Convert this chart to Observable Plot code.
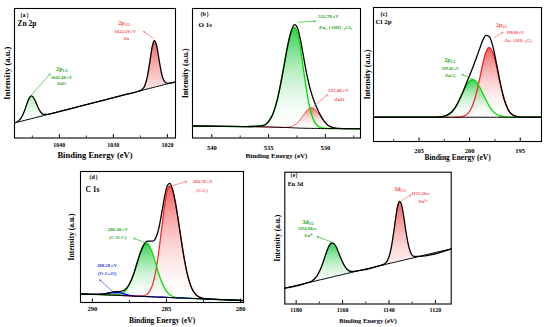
<!DOCTYPE html>
<html><head><meta charset="utf-8">
<script src="https://cdn.jsdelivr.net/npm/d3@7"></script>
<script src="https://cdn.jsdelivr.net/npm/@observablehq/plot@0.6"></script>
<style>
html,body{margin:0;padding:0;background:#fff;}
#root{position:relative;width:550px;height:327px;overflow:hidden;background:#fff;}
#root svg.panel{position:absolute;left:0;top:0;}
</style></head><body>
<svg width="0" height="0" style="position:absolute"><defs>
<linearGradient id="gRed" x1="0" y1="0" x2="0" y2="1"><stop offset="0" stop-color="#ee4040" stop-opacity="0.85"/><stop offset="1" stop-color="#ffffff" stop-opacity="0.1"/></linearGradient>
<linearGradient id="gGreen" x1="0" y1="0" x2="0" y2="1"><stop offset="0" stop-color="#18c83a" stop-opacity="0.9"/><stop offset="1" stop-color="#ffffff" stop-opacity="0.1"/></linearGradient>
<linearGradient id="gBlue" x1="0" y1="0" x2="0" y2="1"><stop offset="0" stop-color="#1030ff" stop-opacity="0.9"/><stop offset="1" stop-color="#ffffff" stop-opacity="0.2"/></linearGradient>
</defs></svg>
<div id="root"></div>
<script>
// ---------- Panel (a) Zn 2p ----------
const aE    = [1048.3,1047.5,1047,1046.5,1046,1045.6,1045.2,1044.8,1044.4,1043.9,1043.4,1042.9,1042.3,1041.5,1035,1028,1025.5,1024.8,1024.2,1023.7,1023.3,1022.8,1022.4,1022,1021.5,1021.1,1020.6,1020,1019.3,1018.5];
const aBase = [11.6,12.5,13.0,13.5,14.1,14.5,14.9,15.3,15.8,16.3,16.8,17.4,18.0,18.9,25.8,33.3,35.9,36.7,37.3,37.9,38.3,38.8,39.2,39.7,40.2,40.6,41.2,41.8,42.5,43.4];
const aZnO  = [0.1,0.9,2.9,6.9,12.3,16.1,17.6,16.1,12.3,6.9,2.9,0.9,0.2,0,0,0,0,0,0,0,0,0,0,0,0,0,0,0,0,0];
const aZn   = [0,0,0,0,0,0,0,0,0,0,0,0,0,0,0,0,0,0.4,2.9,9.6,19.1,31.7,35.9,31.7,19.1,9.6,2.9,0.4,0,0];
const aTicks = [1040,1030,1020], aMinor = [1045,1035,1025];

// ---------- Panel (b) O 1s ----------
const bE    = [541.7,539,537,535.5,535,534.6,534.2,533.8,533.5,533.2,532.95,532.7,532.45,532.2,531.95,531.7,531.45,531.2,530.95,530.7,530.4,530.1,529.8,529.4,529,528,526.9];
const bBase = [9.3,9.0,8.8,8.6,8.5,8.4,8.3,8.2,8.1,8.0,7.9,7.8,7.7,7.6,7.6,7.5,7.5,7.4,7.4,7.4,7.3,7.3,7.3,7.3,7.3,7.2,7.2];
const bOHCl = [0,0,0,1.0,4.1,10.5,22.3,39.7,54.4,67.5,74.9,77.5,73.3,62.1,47.0,31.9,19.3,10.5,5.1,2.2,0.7,0.2,0,0,0,0,0];
const bZnO  = [0,0,0,0,0,0,0,0,0.1,0.5,1.1,2.2,4.0,6.6,9.7,12.8,15.1,16,15.1,12.8,9.1,5.5,2.8,0.9,0.2,0,0];
const bTicks = [540,535,530], bMinor = [537.5,532.5,527.5];

// ---------- Panel (c) Cl 2p ----------
const cE    = [209.5,206,204,203,202.5,202,201.6,201.2,200.8,200.4,200.05,199.7,199.35,199.0,198.7,198.4,198.05,197.7,197.35,197.0,196.6,196.2,195.8,195.3,194.6,193.8,192.9];
const cBase = [18.1,18.1,18.1,18.1,18.1,18.1,18.1,18.1,18.1,18.1,18.1,18.1,18.1,18.1,18.1,18.1,18.1,18.1,18.1,18.1,18.1,18.1,18.1,18.1,18.1,18.1,18.1];
const cZnCl = [0,0,0,0.2,0.8,2.5,5.4,10.1,16.2,22.4,26.5,28,26.5,22.4,17.8,13.0,8.1,4.6,2.3,1.0,0.4,0.1,0,0,0,0,0];
const cOHCl = [0,0,0,0,0,0,0,0.1,0.4,1.5,3.9,9.0,17.5,29.0,39.6,48.1,52,48.1,37.9,25.5,13.4,5.7,2.0,0.4,0,0,0];
const cTicks = [205,200,195], cMinor = [207.5,202.5,197.5];

// ---------- Panel (d) C 1s ----------
const dE    = [290.8,290,289.4,289,288.7,288.4,288.1,287.8,287.5,287.2,286.95,286.7,286.5,286.3,286.1,285.9,285.7,285.5,285.3,285.1,284.95,284.78,284.6,284.4,284.2,284.0,283.8,283.55,283.3,283.0,282.6,282.1,281,279.8];
const dBase = [6.6,6.2,6.0,5.8,5.6,5.5,5.4,5.2,5.1,4.9,4.8,4.7,4.6,4.5,4.4,4.3,4.2,4.1,4.1,4.0,3.9,3.8,3.7,3.6,3.5,3.5,3.4,3.2,3.1,3.0,2.8,2.6,2.1,1.5];
const dCC   = [0,0,0,0,0,0,0,0,0,0,0,0.2,0.6,1.9,4.8,10.7,21.0,36.1,54.4,71.8,81.0,85,82.1,72.7,59.1,44.0,30.1,16.6,8.0,2.8,0.5,0,0,0];
const dCOC  = [0,0,0,0,0.1,0.3,1.1,3.4,8.5,17.2,26.5,35.0,39.4,40.4,37.6,31.9,24.6,17.2,11.0,6.4,4.0,2.2,1.1,0.4,0.1,0,0,0,0,0,0,0,0,0];
const dOCO  = [0,0,0.4,1.2,2.0,2.4,2.0,1.2,0.5,0.1,0,0,0,0,0,0,0,0,0,0,0,0,0,0,0,0,0,0,0,0,0,0,0,0];
const dTicks = [290,285,280], dMinor = [287.5,282.5];

// ---------- Panel (e) Eu 3d ----------
const eE    = [1184.9,1176,1173,1171,1169.5,1168,1166.8,1165.7,1164.6,1163.5,1162.4,1161.2,1159.7,1158.2,1156.2,1153,1145,1141.5,1140,1139,1138,1137.2,1136.3,1135.4,1134.5,1133.6,1132.8,1131.8,1130.8,1129.3,1127,1113.2];
const eBase = [12.0,15.7,16.9,17.8,18.4,19.0,19.5,20.0,20.4,20.9,21.4,21.8,22.5,23.1,23.9,25.3,28.6,30.0,30.7,31.1,31.5,31.8,32.2,32.6,32.9,33.3,33.7,34.1,34.5,35.1,36.1,41.8];
const eEu32 = [0,0,0.8,3.5,8.1,14.8,20.5,24.5,26,24.5,20.5,14.8,8.1,3.5,0.8,0,0,0,0,0,0,0,0,0,0,0,0,0,0,0,0,0];
const eEu52 = [0,0,0,0,0,0,0,0,0,0,0,0,0,0,0,0,0,1.0,5.1,11.9,22.5,32.4,41.7,45.3,41.7,32.4,22.5,11.9,5.1,1.0,0,0];
const eTicks = [1180,1160,1140,1120], eMinor = [1170,1150,1130];

// ---------- Labels ----------
const xLabel = "Binding Energy (eV)";
const yLabel = "Intensity (a.u.)";
const aNotes = [
  {e:1027.9,v:89,t:"2p",r:"main",c:"red"},{e:1027.9,v:89,t:"3/2",r:"sub",c:"red"},
  {e:1027.8,v:82.6,t:"1022.18 eV",r:"val",c:"red"},{e:1027.6,v:76.7,t:"Zn",r:"val",c:"red"},
  {e:1039.4,v:53,t:"2p",r:"main",c:"green"},{e:1039.4,v:53,t:"1/2",r:"sub",c:"green"},
  {e:1039.6,v:46.5,t:"1045.48 eV",r:"val",c:"green"},{e:1039.6,v:41.9,t:"ZnO",r:"val",c:"green"}];
const aArrows = [{x1:1022.65,y1:77,x2:1024.4,y2:82.2,c:"red"},{x1:1045.1,y1:33.5,x2:1041.7,y2:49.6,c:"green"}];
const bNotes = [
  {e:529.73,v:93.8,t:"532.78 eV",r:"val",c:"green"},{e:529.1,v:85.3,t:"Zn₅（OH）₈Cl₂",r:"val",c:"green"},
  {e:528.85,v:36.4,t:"531.48 eV",r:"val",c:"red"},{e:528.76,v:30.2,t:"ZnO",r:"val",c:"red"}];
const bArrows = [{x1:532.35,y1:89.4,x2:530.88,y2:90.2,c:"green"},{x1:531.05,y1:24.5,x2:529.82,y2:33.3,c:"red"}];
const cNotes = [
  {e:196.8,v:86.6,t:"2p",r:"main",c:"red"},{e:196.8,v:86.6,t:"3/2",r:"sub",c:"red"},
  {e:195.5,v:81.3,t:"198.08 eV",r:"val",c:"red"},{e:195.2,v:75.4,t:"Zn₅（OH）₈Cl₂",r:"val",c:"red"},
  {e:201.9,v:60.4,t:"2p",r:"main",c:"green"},{e:201.9,v:60.4,t:"1/2",r:"sub",c:"green"},
  {e:201.9,v:54.5,t:"199.68 eV",r:"val",c:"green"},{e:201.9,v:49.3,t:"ZnCl₂",r:"val",c:"green"}];
const cArrows = [{x1:197.6,y1:77.5,x2:196.7,y2:81.5,c:"red"},{x1:199.7,y1:46.5,x2:200.75,y2:50,c:"green"}];
const dNotes = [
  {e:282.55,v:92.4,t:"284.78 eV",r:"val",c:"red"},{e:282.6,v:85.9,t:"(C-C)",r:"val",c:"red"},
  {e:288.28,v:55.5,t:"286.38 eV",r:"val",c:"green"},{e:288.28,v:49.4,t:"(C-O-C)",r:"val",c:"green"},
  {e:289.02,v:28.2,t:"288.28 eV",r:"val",c:"blue"},{e:289.0,v:22.4,t:"(O-C=O)",r:"val",c:"blue"}];
const dArrows = [{x1:284.56,y1:89.3,x2:283.65,y2:92.4,c:"red"},{x1:286.24,y1:45,x2:287.2,y2:48.9,c:"green"},{x1:288.48,y1:6.8,x2:289.5,y2:17.3,c:"blue"}];
const eNotes = [
  {e:1135.0,v:87.5,t:"3d",r:"main",c:"red"},{e:1135.0,v:87.5,t:"5/2",r:"sub",c:"red"},
  {e:1126.4,v:83.5,t:"1135.28ev",r:"val",c:"red"},{e:1125.3,v:77.9,t:"Eu³⁺",r:"val",c:"red"},
  {e:1174.7,v:62,t:"3d",r:"main",c:"green"},{e:1174.7,v:62,t:"3/2",r:"sub",c:"green"},
  {e:1175.2,v:57,t:"1164.88ev",r:"val",c:"green"},{e:1174.5,v:51.9,t:"Eu³⁺",r:"val",c:"green"}];
const eArrows = [{x1:1134.5,y1:78.5,x2:1130.6,y2:82.7,c:"red"},{x1:1164.4,y1:46.8,x2:1170.9,y2:51.1,c:"green"}];

// ---------- Rendering ----------
const TXT = {red:"#ff4d4d", green:"#14a814", blue:"#2233ee"};
const FILL = {red:"url(#gRed)", green:"url(#gGreen)", blue:"url(#gBlue)"};
const FONT = "'Liberation Serif','Times New Roman',serif";
const CURVE = "monotone-x";
const root = document.getElementById("root");

function table(E, base, comps) {
  return E.map((e, i) => {
    const r = {e, base: base[i]}; let s = base[i];
    for (const k in comps) { r[k] = base[i] + comps[k][i]; s += comps[k][i]; }
    r.env = s; return r;
  });
}

function drawPanel(p) {
  const [L, R, T, B] = p.frame;
  const rows = table(p.E, p.base, p.comps);
  const marks = [];
  for (const c of p.fills) marks.push(Plot.areaY(rows, {x: "e", y1: "base", y2: c.key, fill: FILL[c.col], curve: CURVE}));
  for (const c of p.strokes) marks.push(Plot.lineY(rows, {x: "e", y: c.key, stroke: c.stroke, strokeWidth: c.w || 1.1, curve: CURVE}));
  marks.push(Plot.lineY(rows, {x: "e", y: "env", stroke: "black", strokeWidth: 1.3, curve: CURVE}));
  marks.push(Plot.lineY(rows, {x: "e", y: "base", stroke: "black", strokeWidth: 1, curve: CURVE}));
  marks.push(Plot.frame({stroke: "black", strokeWidth: 1.1}));
  marks.push(Plot.ruleX(p.ticks, {x: d => d, y1: 0, y2: 2.6, stroke: "black", strokeWidth: 1}));
  marks.push(Plot.ruleX(p.minor, {x: d => d, y1: 0, y2: 1.6, stroke: "black", strokeWidth: 0.8}));
  marks.push(Plot.text(p.ticks, {x: d => d, text: d => String(d), frameAnchor: "bottom", lineAnchor: "middle", dy: p.tickDy, fontSize: p.tickFs, fontWeight: "bold", fill: "black"}));
  marks.push(Plot.text([xLabel], {frameAnchor: "bottom", lineAnchor: "middle", dy: p.xDy, fontSize: p.xFs, fontWeight: "bold", fill: "black"}));
  marks.push(Plot.text([yLabel], {frameAnchor: "left", lineAnchor: "middle", textAnchor: "middle", rotate: -90, dx: p.yDx, fontSize: p.yFs, fontWeight: "bold", fill: "black"}));
  marks.push(Plot.text([p.tag], {frameAnchor: "top-left", textAnchor: "start", lineAnchor: "middle", dx: p.tagPos[0], dy: p.tagPos[1], fontSize: p.tagFs, fontWeight: "bold", fill: "black"}));
  marks.push(Plot.text([p.title], {frameAnchor: "top-left", textAnchor: "start", lineAnchor: "middle", dx: p.titlePos[0], dy: p.titlePos[1], fontSize: p.titleFs, fontWeight: "bold", fill: "black"}));
  const fs = p.noteFs;
  for (const role of ["main", "sub", "val"]) {
    const sel = p.notes.filter(n => n.r === role);
    marks.push(Plot.text(sel, {x: "e", y: "v", text: "t", fill: n => TXT[n.c],
      textAnchor: role === "main" ? "end" : role === "sub" ? "start" : "middle",
      dy: role === "sub" ? fs.sub * 0.45 : 0, lineAnchor: "middle",
      fontSize: fs[role], fontWeight: "bold"}));
  }
  marks.push(Plot.arrow(p.arrows, {x1: "x1", y1: "y1", x2: "x2", y2: "y2", stroke: a => TXT[a.c], strokeWidth: 0.6, headLength: 3}));
  const svg = Plot.plot({
    width: 550, height: 327,
    marginLeft: L, marginRight: 550 - R, marginTop: T, marginBottom: 327 - B,
    x: {domain: p.domain, axis: null},
    y: {domain: [0, 100], axis: null},
    color: {type: "identity"},
    style: {background: "transparent", fontFamily: FONT, overflow: "visible"},
    marks
  });
  svg.classList.add("panel");
  root.append(svg);
}

drawPanel({frame: [14, 175, 8, 137.5], domain: [1048.3, 1018.5], E: aE, base: aBase,
  comps: {znO: aZnO, zn: aZn}, fills: [{key: "zn", col: "red"}, {key: "znO", col: "green"}], strokes: [],
  ticks: aTicks, minor: aMinor, tickDy: 7.5, tickFs: 6, xDy: 17.5, xFs: 8.5, yDx: -7, yFs: 8.5,
  tag: "（a）", tagPos: [2, 7], tagFs: 6, title: "Zn 2p", titlePos: [3, 15], titleFs: 7.5,
  notes: aNotes, arrows: aArrows, noteFs: {main: 6, sub: 4, val: 4.6}});

drawPanel({frame: [192, 360, 8, 137.5], domain: [541.7, 526.9], E: bE, base: bBase,
  comps: {ohcl: bOHCl, zno: bZnO}, fills: [{key: "zno", col: "red"}, {key: "ohcl", col: "green"}],
  strokes: [{key: "zno", stroke: "#ff6060", w: 1}, {key: "ohcl", stroke: "#00e000", w: 1.4}],
  ticks: bTicks, minor: bMinor, tickDy: 10, tickFs: 6.5, xDy: 17.5, xFs: 7, yDx: -7.5, yFs: 8,
  tag: "（b）", tagPos: [4, 6], tagFs: 6, title: "O 1s", titlePos: [6, 16], titleFs: 7,
  notes: bNotes, arrows: bArrows, noteFs: {main: 6, sub: 4, val: 5}});

drawPanel({frame: [373, 541, 7, 141], domain: [209.5, 192.9], E: cE, base: cBase,
  comps: {zncl: cZnCl, ohcl: cOHCl}, fills: [{key: "ohcl", col: "red"}, {key: "zncl", col: "green"}],
  strokes: [{key: "ohcl", stroke: "#ff1a1a", w: 1.2}, {key: "zncl", stroke: "#00e000", w: 1.3}],
  ticks: cTicks, minor: cMinor, tickDy: 9, tickFs: 6.5, xDy: 15.7, xFs: 7.5, yDx: -6, yFs: 8,
  tag: "(c)", tagPos: [7, 6.5], tagFs: 6, title: "Cl 2p", titlePos: [2, 14], titleFs: 7,
  notes: cNotes, arrows: cArrows, noteFs: {main: 5.5, sub: 3.8, val: 4.2}});

drawPanel({frame: [80, 243, 171, 302], domain: [290.8, 279.8], E: dE, base: dBase,
  comps: {cc: dCC, coc: dCOC, oco: dOCO}, fills: [{key: "cc", col: "red"}, {key: "coc", col: "green"}, {key: "oco", col: "blue"}],
  strokes: [{key: "cc", stroke: "#ff2020", w: 1.2}, {key: "coc", stroke: "#00e000", w: 1.3}, {key: "oco", stroke: "#0000ff", w: 1.1}],
  ticks: dTicks, minor: dMinor, tickDy: 6, tickFs: 6.5, xDy: 18, xFs: 7.5, yDx: -9.3, yFs: 7.5,
  tag: "（d）", tagPos: [5, 5.7], tagFs: 6, title: "C 1s", titlePos: [5, 18.3], titleFs: 7.5,
  notes: dNotes, arrows: dArrows, noteFs: {main: 6, sub: 4, val: 4.8}});

drawPanel({frame: [284.3, 450.7, 171.7, 303.5], domain: [1184.9, 1113.2], E: eE, base: eBase,
  comps: {eu32: eEu32, eu52: eEu52}, fills: [{key: "eu52", col: "red"}, {key: "eu32", col: "green"}], strokes: [],
  ticks: eTicks, minor: eMinor, tickDy: 6.5, tickFs: 6, xDy: 16.5, xFs: 6.5, yDx: -7.3, yFs: 7.5,
  tag: "（e）", tagPos: [2, 3.5], tagFs: 5.5, title: "Eu 3d", titlePos: [3, 12.3], titleFs: 6,
  notes: eNotes, arrows: eArrows, noteFs: {main: 6, sub: 4, val: 4.5}});
</script>
</body></html>
